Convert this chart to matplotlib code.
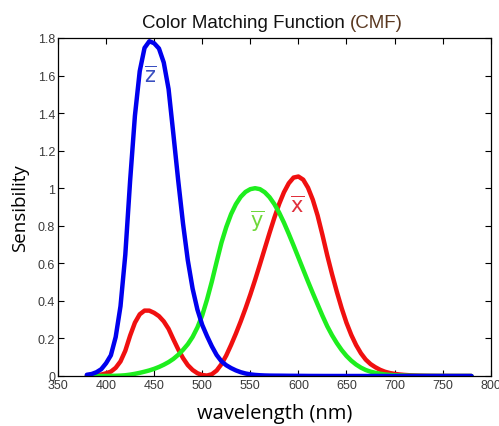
import matplotlib
matplotlib.use("Agg")
import matplotlib.pyplot as plt
import numpy as np

# CIE 1931 colour matching functions, 5 nm steps from 380 to 780 nm
wavelength = np.arange(380, 781, 5)
x_bar = [0.001368, 0.002236, 0.004243, 0.00765, 0.01431, 0.02319, 0.04351, 0.07763,
         0.13438, 0.21477, 0.2839, 0.3285, 0.34828, 0.34806, 0.3362, 0.3187,
         0.2908, 0.2511, 0.19536, 0.1421, 0.09564, 0.05795, 0.03201, 0.0147,
         0.0049, 0.0024, 0.0093, 0.0291, 0.06327, 0.1096, 0.1655, 0.22575,
         0.2904, 0.3597, 0.43345, 0.51205, 0.5945, 0.6784, 0.7621, 0.8425,
         0.9163, 0.9786, 1.0263, 1.0567, 1.0622, 1.0456, 1.0026, 0.9384,
         0.85445, 0.7514, 0.6424, 0.5419, 0.4479, 0.3608, 0.2835, 0.2187,
         0.1649, 0.1212, 0.0874, 0.0636, 0.04677, 0.0329, 0.0227, 0.01584,
         0.011359, 0.008111, 0.00579, 0.004109, 0.002899, 0.002049, 0.00144, 0.001,
         0.00069, 0.000476, 0.000332, 0.000235, 0.000166, 0.000117, 0.000083, 0.000059,
         0.000042]
y_bar = [0.000039, 0.000064, 0.00012, 0.000217, 0.000396, 0.00064, 0.00121, 0.00218,
         0.004, 0.0073, 0.0116, 0.01684, 0.023, 0.0298, 0.038, 0.048,
         0.06, 0.0739, 0.09098, 0.1126, 0.13902, 0.1693, 0.20802, 0.2586,
         0.323, 0.4073, 0.503, 0.6082, 0.71, 0.7932, 0.862, 0.91485,
         0.954, 0.9803, 0.99495, 1.0, 0.995, 0.9786, 0.952, 0.9154,
         0.87, 0.8163, 0.757, 0.6949, 0.631, 0.5668, 0.503, 0.4412,
         0.381, 0.321, 0.265, 0.217, 0.175, 0.1382, 0.107, 0.0816,
         0.061, 0.04458, 0.032, 0.0232, 0.017, 0.01192, 0.00821, 0.005723,
         0.004102, 0.002929, 0.002091, 0.001484, 0.001047, 0.00074, 0.00052, 0.000361,
         0.000249, 0.000172, 0.00012, 0.000085, 0.00006, 0.000042, 0.00003, 0.000021,
         0.000015]
z_bar = [0.00645, 0.01055, 0.02005, 0.03621, 0.06785, 0.1102, 0.2074, 0.3713,
         0.6456, 1.03905, 1.3856, 1.62296, 1.74706, 1.7826, 1.77211, 1.7441,
         1.6692, 1.5281, 1.28764, 1.0419, 0.81295, 0.6162, 0.46518, 0.3533,
         0.272, 0.2123, 0.1582, 0.1117, 0.07825, 0.05725, 0.04216, 0.02984,
         0.0203, 0.0134, 0.00875, 0.00575, 0.0039, 0.00275, 0.0021, 0.0018,
         0.00165, 0.0014, 0.0011, 0.001, 0.0008, 0.0006, 0.00034, 0.00024,
         0.00019, 0.0001, 0.00005, 0.00003, 0.00002, 0.00001] + [0.0] * 27

fig = plt.figure(figsize=(4.99, 4.27), dpi=100)
ax = fig.add_axes([0.1162, 0.1171, 0.8672, 0.7916])

style = dict(lw=3.2, solid_joinstyle="round", solid_capstyle="round")
ax.plot(wavelength, x_bar, color="#f01010", **style)
ax.plot(wavelength, y_bar, color="#1eee1e", **style)
ax.plot(wavelength, z_bar, color="#0000ee", **style)

# curve labels with overbars
ax.text(445.7, 1.60, r"$\overline{\mathrm{z}}$", color="#3a4fc0", fontsize=15,
        ha="center", va="center")
ax.text(557, 0.83, r"$\overline{\mathrm{y}}$", color="#6fd83a", fontsize=15,
        ha="center", va="center")
ax.text(598.5, 0.91, r"$\overline{\mathrm{x}}$", color="#e0303c", fontsize=15,
        ha="center", va="center")

ax.set_xlim(350, 800)
ax.set_ylim(0, 1.8)
ax.set_xticks(np.arange(350, 801, 50))
ax.set_yticks(np.arange(0, 1.81, 0.2))
ax.set_yticklabels(["0", "0.2", "0.4", "0.6", "0.8", "1", "1.2", "1.4", "1.6", "1.8"])
ax.tick_params(direction="in", top=True, right=True, length=4, width=0.8,
               labelsize=9, labelcolor="#3a3a3a", pad=2)
for lab in ax.get_xticklabels() + ax.get_yticklabels():
    lab.set_family("Liberation Sans")
for s in ax.spines.values():
    s.set_linewidth(0.9)

ax.set_xlabel("wavelength (nm)", family="Open Sans", fontsize=14.5, labelpad=9)
ax.set_ylabel("Sensibility", family="Open Sans", fontsize=13.5, labelpad=6)

# title in two colours
t1 = fig.text(0.285, 0.934, "Color Matching Function ", family="Liberation Sans",
              fontsize=13.5, color="#111111", ha="left", va="baseline")
ax.annotate("(CMF)", xy=(1, 0), xycoords=t1, va="bottom", ha="left",
            family="Liberation Sans", fontsize=13.5, color="#5a3820")

fig.savefig("out.png", dpi=100)
